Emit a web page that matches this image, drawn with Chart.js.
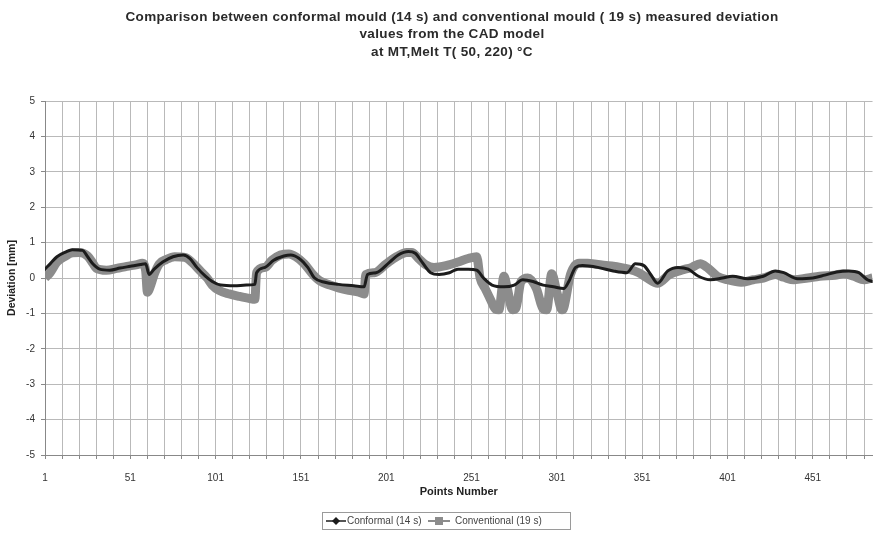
<!DOCTYPE html>
<html lang="en">
<head>
    <meta charset="UTF-8">
    <title>Deviation comparison</title>
    <script src="https://cdn.jsdelivr.net/npm/chart.js"></script>
    <style>
        body { margin: 0; background: #fff; }
        canvas { display: block; }
    </style>
</head>
<body>
    <canvas id="devChart" width="877" height="534"></canvas>

    <script>
        // title lines
        const titleLines = [
            'Comparison between conformal mould (14 s) and conventional mould ( 19 s) measured deviation',
            'values from the CAD model',
            'at MT,Melt T( 50, 220) \u00B0C'
        ];
        const seriesNames = ['Conformal (14 s)', 'Conventional (19 s)'];

        // conformal mould, point number / deviation (mm)
        const conformalPts = [1, 4, 8, 13, 17, 23, 26, 29, 33, 39, 45, 51, 57, 60, 62, 65, 70, 76, 82, 86,
            90, 95, 99, 104, 112, 119, 124, 125, 130, 135, 141, 145, 150, 155, 159, 165, 173, 182, 188, 190,
            195, 203, 208, 214, 218, 222, 227, 232, 238, 243, 249, 254, 258, 263, 270, 276, 281, 287, 293, 299,
            305, 308, 312, 316, 325, 334, 342, 347, 352, 356, 360, 366, 372, 378, 384, 391, 398, 404, 413, 422,
            429, 434, 442, 451, 458, 465, 472, 478, 483, 486];
        const conformalDev = [0.25, 0.4, 0.6, 0.73, 0.8, 0.78, 0.6, 0.4, 0.25, 0.22, 0.28, 0.33, 0.38, 0.4, 0.1, 0.25, 0.45, 0.6, 0.65, 0.55,
            0.3, 0.05, -0.1, -0.2, -0.22, -0.2, -0.18, 0.15, 0.3, 0.5, 0.62, 0.65, 0.55, 0.3, 0.0, -0.12, -0.18, -0.22, -0.25, 0.1,
            0.15, 0.45, 0.65, 0.75, 0.7, 0.45, 0.15, 0.1, 0.15, 0.25, 0.25, 0.22, 0.0, -0.2, -0.25, -0.2, -0.05, -0.1, -0.2, -0.25,
            -0.3, -0.1, 0.3, 0.35, 0.3, 0.2, 0.15, 0.4, 0.35, 0.1, -0.15, 0.2, 0.3, 0.25, 0.05, -0.05, 0.0, 0.05, -0.02, 0.05,
            0.2, 0.15, -0.02, 0.0, 0.08, 0.17, 0.2, 0.15, -0.05, -0.1];

        // conventional mould
        const conventionalPts = [1, 4, 8, 13, 17, 21, 26, 29, 31, 37, 43, 49, 55, 58, 60, 61, 63, 65, 68, 72,
            77, 83, 87, 92, 96, 99, 103, 109, 115, 121, 124, 125, 130, 134, 139, 144, 148, 153, 158, 162,
            168, 173, 179, 185, 188, 189, 194, 201, 207, 213, 216, 220, 224, 229, 236, 243, 249, 254, 256, 259,
            262, 265, 267, 270, 272, 275, 277, 280, 284, 289, 293, 295, 298, 301, 304, 305, 309, 314, 319, 325,
            333, 343, 349, 354, 360, 367, 374, 380, 385, 389, 395, 401, 409, 416, 422, 429, 434, 440, 448, 455,
            464, 469, 475, 481, 486];
        const conventionalDev = [0.0, 0.15, 0.45, 0.62, 0.71, 0.72, 0.62, 0.42, 0.28, 0.22, 0.27, 0.33, 0.38, 0.42, 0.2, -0.4, -0.2, 0.1, 0.4, 0.52,
            0.6, 0.58, 0.45, 0.2, 0.0, -0.2, -0.35, -0.45, -0.52, -0.58, -0.6, 0.15, 0.3, 0.5, 0.65, 0.68, 0.6, 0.4, 0.1, -0.08,
            -0.2, -0.28, -0.35, -0.4, -0.45, 0.1, 0.15, 0.4, 0.6, 0.72, 0.72, 0.55, 0.38, 0.3, 0.35, 0.45, 0.55, 0.6, 0.0, -0.3,
            -0.6, -0.88, -0.9, 0.05, -0.3, -0.9, -0.85, -0.1, 0.0, -0.3, -0.88, -0.9, 0.12, -0.4, -0.9, -0.85, 0.1, 0.42, 0.42, 0.38,
            0.34, 0.25, 0.15, 0.0, -0.15, 0.1, 0.22, 0.3, 0.4, 0.3, 0.05, -0.05, -0.12, -0.05, 0.0, 0.1, 0.02, -0.05, 0.0, 0.05,
            0.08, 0.12, 0.05, -0.05, 0.0];

        // axis settings
        const xFirst = 1, xLast = 486, xGridStep = 10, xLabelStep = 50;
        const yMin = -5, yMax = 5;

        const FONT = '"Liberation Sans", Arial, sans-serif';
        const NARROW = '"Liberation Sans Narrow", "Liberation Sans", Arial, sans-serif';
        const BLACK = '#1c1c1c';
        const GREY = '#8c8c8c';

        const toXY = (pts, vals) => pts.map((p, i) => ({ x: p, y: vals[i] }));

        // title + legend drawn on the canvas
        const extras = {
            id: 'extras',
            afterDraw(chart) {
                const c = chart.ctx;
                c.save();
                c.fillStyle = '#2a2a2a';
                c.font = 'bold 13.5px ' + FONT;
                c.letterSpacing = '0.35px';
                c.textAlign = 'center';
                c.textBaseline = 'middle';
                titleLines.forEach((t, i) => c.fillText(t, 452, 17 + i * 17.5));
                c.letterSpacing = '0px';

                // legend box
                const ly = 521;
                c.strokeStyle = '#9a9a9a';
                c.lineWidth = 1;
                c.strokeRect(322.5, 512.5, 248, 17);
                c.font = '10px ' + FONT;
                c.textAlign = 'left';

                c.strokeStyle = BLACK;
                c.lineWidth = 1.5;
                c.beginPath(); c.moveTo(326, ly); c.lineTo(346, ly); c.stroke();
                c.fillStyle = BLACK;
                c.beginPath();
                c.moveTo(336, ly - 4); c.lineTo(340, ly); c.lineTo(336, ly + 4); c.lineTo(332, ly);
                c.closePath(); c.fill();
                c.fillStyle = '#444';
                c.fillText(seriesNames[0], 347, ly + 0.5);

                c.strokeStyle = GREY;
                c.lineWidth = 2;
                c.beginPath(); c.moveTo(428, ly); c.lineTo(450, ly); c.stroke();
                c.fillStyle = GREY;
                c.fillRect(435, ly - 4, 8, 8);
                c.fillStyle = '#444';
                c.fillText(seriesNames[1], 455, ly + 0.5);
                c.restore();
            }
        };

        const ctx = document.getElementById('devChart').getContext('2d');
        const devChart = new Chart(ctx, {
            type: 'line',
            data: {
                datasets: [
                    {
                        label: seriesNames[0],
                        data: toXY(conformalPts, conformalDev),
                        borderColor: BLACK,
                        borderWidth: 3,
                        pointRadius: 0,
                        cubicInterpolationMode: 'monotone',
                        borderJoinStyle: 'round',
                        borderCapStyle: 'round'
                    },
                    {
                        label: seriesNames[1],
                        data: toXY(conventionalPts, conventionalDev),
                        borderColor: GREY,
                        borderWidth: 9,
                        pointRadius: 0,
                        cubicInterpolationMode: 'monotone',
                        borderJoinStyle: 'round',
                        borderCapStyle: 'butt'
                    }
                ]
            },
            options: {
                responsive: false,
                animation: false,
                layout: { padding: { top: 101, right: 0, bottom: 31, left: 0 } },
                plugins: {
                    legend: { display: false },
                    title: { display: false },
                    tooltip: { enabled: false }
                },
                scales: {
                    x: {
                        type: 'linear',
                        min: xFirst,
                        max: xLast,
                        afterBuildTicks(scale) {
                            const t = [];
                            for (let v = xFirst; v <= xLast; v += xGridStep) t.push({ value: v });
                            scale.ticks = t;
                        },
                        afterFit(scale) { scale.height = 48; },
                        grid: { color: '#b9b9b9', tickLength: 4, tickColor: '#888' },
                        border: { color: '#888' },
                        ticks: {
                            autoSkip: false,
                            maxRotation: 0,
                            padding: 13,
                            color: '#333',
                            font: { family: NARROW, size: 10 },
                            callback: v => ((v - xFirst) % xLabelStep === 0 ? String(v) : '')
                        },
                        title: {
                            display: true,
                            text: 'Points Number',
                            color: '#222',
                            font: { family: FONT, size: 11, weight: 'bold' },
                            padding: { top: 0, bottom: 4 }
                        }
                    },
                    y: {
                        min: yMin,
                        max: yMax,
                        afterFit(scale) { scale.width = 45; },
                        grid: { color: '#b9b9b9', tickLength: 4, tickColor: '#888' },
                        border: { color: '#888' },
                        ticks: {
                            stepSize: 1,
                            padding: 6,
                            color: '#333',
                            font: { family: NARROW, size: 10 }
                        },
                        title: {
                            display: true,
                            text: 'Deviation [mm]',
                            color: '#222',
                            font: { family: FONT, size: 10.5, weight: 'bold' },
                            padding: { top: 6, bottom: 0 }
                        }
                    }
                }
            },
            plugins: [extras]
        });
    </script>
</body>
</html>
